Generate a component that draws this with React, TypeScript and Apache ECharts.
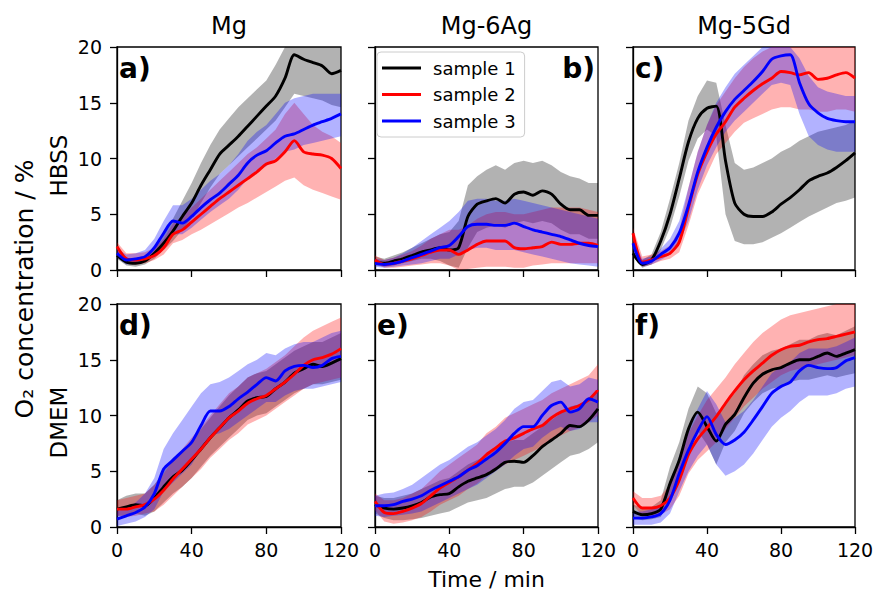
import React, { useEffect, useRef } from "react";
import * as echarts from "echarts";

// ---------- data ----------
const TIME = [0, 5, 10, 15, 20, 25, 30, 35, 40, 45, 50, 55, 60, 65, 70, 75, 80, 85, 90, 95, 100, 105, 110, 115, 120];
const COLUMN_TITLES = ["Mg", "Mg-6Ag", "Mg-5Gd"];
const ROW_LABELS = ["HBSS", "DMEM"];
const PANEL_LABELS = ["a)", "b)", "c)", "d)", "e)", "f)"];
const SAMPLE_NAMES = ["sample 1", "sample 2", "sample 3"];
const Y_LABEL = "O\u2082 concentration / %";
const X_LABEL = "Time / min";

// Panel a) Mg / HBSS
const A_S1 = [1.3, 0.7, 0.6, 0.8, 1.5, 2.4, 3.5, 4.8, 6.0, 7.6, 9.0, 10.4, 11.2, 12.0, 12.9, 13.8, 14.7, 15.6, 17.2, 19.3, 18.9, 18.6, 18.3, 17.6, 17.9];
const A_S1_LO = [1.0, 0.4, 0.3, 0.5, 1.0, 1.8, 2.6, 3.6, 4.6, 6.0, 7.4, 8.6, 9.4, 10.2, 11.0, 11.8, 12.6, 13.4, 14.6, 15.8, 15.6, 15.4, 15.2, 14.8, 14.6];
const A_S1_HI = [1.8, 1.0, 0.9, 1.2, 2.0, 3.2, 4.6, 6.2, 7.8, 9.6, 11.2, 12.6, 13.6, 14.6, 15.4, 16.2, 17.0, 18.4, 20, 20, 20, 20, 20, 20, 20];
const A_S2 = [2.1, 1.0, 0.9, 1.0, 1.3, 2.0, 3.2, 3.6, 4.3, 5.0, 5.7, 6.4, 7.0, 7.6, 8.2, 8.8, 9.5, 9.8, 10.6, 11.6, 10.6, 10.4, 10.3, 10.0, 9.1];
const A_S2_LO = [1.5, 0.6, 0.5, 0.6, 0.9, 1.4, 2.4, 2.7, 3.2, 3.6, 4.1, 4.6, 5.1, 5.6, 6.0, 6.5, 7.0, 7.5, 8.0, 8.3, 7.6, 7.2, 6.9, 6.6, 6.3];
const A_S2_HI = [2.5, 1.5, 1.5, 1.6, 2.0, 2.8, 4.2, 4.8, 5.6, 6.4, 7.2, 8.0, 8.8, 9.6, 10.4, 11.0, 11.8, 12.6, 14.0, 15.0, 14.0, 13.0, 12.4, 12.0, 11.4];
const A_S3 = [1.5, 0.9, 1.0, 1.2, 2.0, 3.3, 4.4, 4.2, 4.8, 5.6, 6.3, 6.9, 7.7, 8.5, 9.6, 10.3, 10.7, 11.4, 12.0, 12.2, 12.6, 13.0, 13.3, 13.6, 14.0];
const A_S3_LO = [1.1, 0.5, 0.6, 0.8, 1.4, 2.4, 3.2, 3.2, 3.8, 4.5, 5.2, 5.8, 6.4, 7.2, 8.2, 8.9, 9.3, 10.0, 10.6, 10.8, 11.2, 11.4, 11.6, 11.8, 12.0];
const A_S3_HI = [1.9, 1.4, 1.5, 1.8, 2.8, 4.4, 5.8, 5.8, 6.4, 7.2, 8.0, 8.6, 9.4, 10.4, 11.6, 12.4, 13.0, 14.0, 15.0, 15.4, 15.6, 15.8, 15.8, 15.8, 15.8];

// Panel b) Mg-6Ag / HBSS
const B_S1 = [0.7, 0.6, 0.8, 1.0, 1.3, 1.6, 1.8, 2.0, 1.8, 2.0, 4.8, 5.9, 6.2, 6.4, 6.0, 6.8, 7.0, 6.7, 7.1, 6.8, 5.9, 5.4, 5.4, 4.9, 4.9];
const B_S1_LO = [0.4, 0.3, 0.4, 0.6, 0.8, 1.0, 1.0, 0.8, 0.4, 0.2, 2.0, 3.4, 3.8, 4.0, 3.8, 4.2, 4.4, 4.2, 4.4, 4.2, 3.6, 3.2, 3.2, 2.8, 2.8];
const B_S1_HI = [1.2, 1.0, 1.3, 1.6, 2.0, 2.4, 2.8, 3.2, 3.4, 4.4, 7.6, 8.4, 9.0, 9.4, 9.0, 9.6, 9.8, 9.6, 9.8, 9.4, 8.8, 8.4, 8.2, 7.8, 7.8];
const B_S2 = [0.9, 0.5, 0.6, 0.8, 1.0, 1.3, 1.6, 1.8, 1.8, 1.4, 1.8, 2.3, 2.6, 2.6, 2.6, 2.0, 1.9, 2.0, 2.1, 2.5, 2.3, 2.3, 2.4, 2.4, 2.2];
const B_S2_LO = [0.6, 0.2, 0.2, 0.3, 0.4, 0.5, 0.6, 0.6, 0.4, 0.0, 0.1, 0.2, 0.3, 0.3, 0.3, 0.2, 0.2, 0.4, 0.5, 0.6, 0.6, 0.6, 0.6, 0.6, 0.6];
const B_S2_HI = [1.3, 0.9, 1.1, 1.4, 1.7, 2.2, 2.8, 3.2, 3.6, 3.6, 4.0, 4.6, 5.0, 5.2, 5.2, 5.0, 5.0, 5.2, 5.4, 5.6, 5.6, 5.6, 5.6, 5.4, 5.2];
const B_S3 = [0.6, 0.5, 0.6, 0.8, 1.1, 1.4, 1.7, 2.0, 2.2, 3.0, 3.9, 4.1, 4.1, 4.0, 4.0, 4.2, 3.9, 3.6, 3.4, 3.2, 3.0, 2.7, 2.4, 2.2, 2.1];
const B_S3_LO = [0.3, 0.2, 0.3, 0.4, 0.5, 0.6, 0.8, 1.0, 1.0, 1.4, 1.8, 2.0, 2.0, 1.8, 1.8, 1.8, 1.6, 1.4, 1.2, 1.0, 0.8, 0.6, 0.5, 0.4, 0.3];
const B_S3_HI = [1.0, 0.9, 1.1, 1.5, 2.0, 2.6, 3.2, 3.8, 4.4, 5.2, 6.2, 6.4, 6.4, 6.2, 6.2, 6.4, 6.2, 6.0, 5.8, 5.6, 5.4, 5.2, 5.0, 4.8, 4.6];

// Panel c) Mg-5Gd / HBSS
const C_S1 = [1.5, 0.5, 0.9, 2.6, 5.0, 8.2, 11.5, 13.6, 14.5, 14.7, 9.8, 6.0, 5.0, 4.8, 4.8, 5.2, 5.9, 6.5, 7.2, 8.0, 8.4, 8.7, 9.2, 9.8, 10.5];
const C_S1_LO = [1.2, 0.2, 0.5, 1.8, 3.8, 6.6, 9.8, 11.8, 12.6, 12.0, 5.0, 2.6, 2.3, 2.3, 2.5, 2.9, 3.3, 3.8, 4.3, 4.8, 5.2, 5.6, 6.0, 6.2, 6.5];
const C_S1_HI = [1.9, 0.9, 1.4, 3.4, 6.4, 9.6, 13.4, 15.6, 17.0, 16.8, 13.0, 9.6, 9.0, 9.2, 9.6, 10.0, 10.6, 11.0, 11.6, 12.0, 12.4, 12.6, 12.8, 13.0, 13.4];
const C_S2 = [3.3, 0.7, 0.9, 1.2, 1.5, 2.5, 5.6, 8.6, 10.6, 12.2, 13.3, 14.6, 15.4, 16.1, 16.7, 17.2, 17.8, 17.7, 17.5, 17.7, 17.1, 17.2, 17.5, 17.7, 17.2];
const C_S2_LO = [2.8, 0.3, 0.5, 0.8, 1.0, 1.6, 4.0, 6.8, 8.6, 10.4, 11.4, 12.4, 13.2, 13.6, 14.0, 14.4, 14.6, 14.6, 14.4, 14.4, 14.2, 14.2, 14.4, 14.4, 14.2];
const C_S2_HI = [3.8, 1.2, 1.4, 1.7, 2.2, 3.6, 7.4, 10.6, 13.0, 14.8, 16.0, 17.2, 18.2, 19.0, 19.6, 20, 20, 20, 20, 20, 20, 20, 20, 20, 20];
const C_S3 = [2.4, 0.6, 0.8, 1.4, 2.0, 3.3, 5.8, 8.8, 11.0, 12.8, 14.2, 15.3, 16.1, 16.9, 17.8, 18.9, 19.2, 19.3, 16.8, 14.9, 14.1, 13.6, 13.4, 13.3, 13.3];
const C_S3_LO = [2.0, 0.3, 0.5, 0.9, 1.4, 2.4, 4.4, 7.2, 9.4, 11.0, 12.4, 13.4, 14.2, 15.0, 15.8, 16.6, 16.8, 16.6, 14.0, 12.0, 11.2, 10.8, 10.6, 10.6, 10.6];
const C_S3_HI = [2.8, 1.0, 1.2, 1.9, 2.8, 4.4, 7.4, 10.6, 13.0, 15.0, 16.4, 17.6, 18.4, 19.2, 20, 20, 20, 20, 19.0, 17.4, 16.4, 16.0, 15.8, 15.6, 15.6];

// Panel d) Mg / DMEM
const D_S1 = [1.6, 1.8, 2.0, 1.9, 2.6, 3.6, 4.5, 5.1, 6.0, 7.0, 8.0, 8.9, 9.8, 10.5, 11.3, 11.6, 11.7, 12.4, 13.0, 13.8, 14.2, 14.6, 14.4, 14.7, 15.1];
const D_S1_LO = [1.0, 1.0, 1.2, 1.0, 1.4, 2.2, 3.0, 3.6, 4.4, 5.4, 6.4, 7.2, 8.0, 8.8, 9.6, 10.0, 10.2, 10.8, 11.4, 12.0, 12.4, 12.8, 12.8, 13.0, 13.2];
const D_S1_HI = [2.4, 2.8, 3.0, 3.0, 3.8, 5.0, 6.2, 6.8, 7.8, 8.8, 9.8, 10.8, 11.8, 12.6, 13.4, 13.8, 14.0, 14.6, 15.2, 15.8, 16.2, 16.6, 16.6, 17.0, 17.4];
const D_S2 = [1.6, 1.6, 1.8, 2.0, 2.5, 3.3, 4.3, 5.2, 6.1, 7.0, 8.0, 8.9, 9.8, 10.4, 11.1, 11.5, 11.8, 12.4, 13.0, 13.7, 14.5, 15.0, 15.2, 15.5, 16.0];
const D_S2_LO = [1.0, 0.9, 1.0, 1.2, 1.4, 2.0, 2.8, 3.6, 4.4, 5.2, 6.2, 7.0, 7.8, 8.4, 9.2, 9.6, 10.0, 10.6, 11.2, 11.8, 12.4, 12.8, 13.0, 13.2, 13.4];
const D_S2_HI = [2.4, 2.6, 2.8, 3.0, 3.8, 4.8, 6.0, 7.0, 8.0, 9.0, 10.0, 11.0, 12.0, 12.6, 13.4, 13.8, 14.2, 14.8, 15.4, 16.2, 17.0, 17.6, 18.0, 18.4, 18.8];
const D_S3 = [0.7, 1.0, 1.3, 1.8, 3.0, 5.2, 6.0, 6.8, 7.6, 9.1, 10.4, 10.4, 10.8, 11.5, 12.1, 12.8, 13.4, 13.1, 14.0, 14.4, 14.5, 14.3, 14.5, 15.1, 15.3];
const D_S3_LO = [0.1, 0.3, 0.5, 0.9, 1.6, 3.2, 4.0, 4.8, 5.6, 7.0, 8.2, 8.4, 8.8, 9.4, 10.0, 10.6, 11.2, 11.2, 11.8, 12.2, 12.4, 12.4, 12.6, 12.8, 13.0];
const D_S3_HI = [1.4, 1.7, 2.2, 3.0, 4.4, 7.0, 8.4, 9.6, 10.8, 12.0, 12.8, 13.0, 13.4, 14.0, 14.6, 15.0, 15.6, 15.4, 16.0, 16.4, 16.6, 16.6, 17.0, 17.4, 17.6];

// Panel e) Mg-6Ag / DMEM
const E_S1 = [2.0, 1.7, 1.6, 1.7, 1.9, 2.2, 2.7, 2.9, 3.0, 3.6, 4.1, 4.4, 4.7, 5.2, 5.8, 5.9, 5.8, 6.4, 7.2, 7.8, 8.4, 9.1, 9.0, 9.6, 10.6];
const E_S1_LO = [1.2, 0.8, 0.6, 0.6, 0.7, 0.8, 1.0, 1.2, 1.4, 1.8, 2.2, 2.4, 2.6, 3.0, 3.4, 3.6, 3.6, 4.0, 4.6, 5.2, 5.8, 6.4, 6.6, 7.0, 7.6];
const E_S1_HI = [2.8, 2.6, 2.6, 2.8, 3.0, 3.4, 3.8, 4.2, 4.4, 5.0, 5.6, 6.0, 6.4, 7.0, 7.6, 7.8, 7.8, 8.4, 9.0, 9.6, 10.2, 10.8, 11.0, 11.6, 12.4];
const E_S2 = [2.3, 1.3, 1.2, 1.4, 1.7, 2.1, 2.8, 3.5, 4.0, 4.5, 5.1, 5.7, 6.5, 7.1, 7.7, 8.0, 8.4, 8.8, 9.1, 9.8, 10.3, 10.6, 10.9, 11.4, 12.3];
const E_S2_LO = [1.5, 0.5, 0.3, 0.4, 0.6, 0.9, 1.4, 2.0, 2.4, 2.8, 3.4, 3.9, 4.6, 5.1, 5.6, 6.0, 6.4, 6.8, 7.2, 7.8, 8.2, 8.6, 8.9, 9.4, 10.0];
const E_S2_HI = [3.0, 2.4, 2.4, 2.6, 3.0, 3.4, 4.2, 5.0, 5.6, 6.2, 6.8, 7.4, 8.4, 9.0, 9.8, 10.2, 10.6, 11.0, 11.4, 12.0, 12.4, 12.8, 13.2, 13.6, 14.6];
const E_S3 = [1.9, 1.9, 2.0, 2.3, 2.5, 2.8, 3.3, 3.7, 4.1, 4.5, 5.1, 5.5, 6.1, 6.7, 7.5, 8.4, 9.0, 9.0, 10.0, 10.9, 11.2, 10.3, 10.6, 11.5, 11.2];
const E_S3_LO = [1.0, 0.9, 1.0, 1.1, 1.2, 1.4, 1.8, 2.2, 2.6, 3.0, 3.4, 3.8, 4.4, 5.0, 5.6, 6.4, 7.0, 7.2, 8.0, 8.6, 9.0, 8.6, 8.8, 9.4, 9.4];
const E_S3_HI = [2.8, 3.0, 3.1, 3.4, 3.8, 4.4, 5.0, 5.6, 6.0, 6.6, 7.2, 7.6, 8.2, 8.8, 9.6, 10.6, 11.2, 11.4, 12.2, 13.0, 13.2, 12.6, 12.8, 13.4, 13.2];

// Panel f) Mg-5Gd / DMEM
const F_S1 = [1.4, 1.1, 1.2, 1.6, 3.9, 6.0, 8.8, 10.3, 9.0, 7.7, 9.2, 10.1, 11.6, 12.9, 13.7, 14.1, 14.3, 14.7, 15.0, 15.0, 15.3, 15.6, 15.3, 15.6, 15.9];
const F_S1_LO = [0.8, 0.6, 0.7, 0.9, 2.6, 4.6, 7.2, 8.6, 7.4, 5.6, 7.6, 8.6, 10.2, 11.2, 12.0, 12.4, 12.6, 13.0, 13.2, 13.2, 13.4, 13.6, 13.4, 13.6, 13.8];
const F_S1_HI = [2.0, 1.8, 1.8, 2.4, 5.4, 7.6, 10.6, 12.6, 12.0, 10.2, 11.0, 12.0, 13.6, 14.6, 15.4, 15.8, 16.0, 16.4, 16.8, 16.8, 17.2, 17.4, 17.2, 17.6, 18.0];
const F_S2 = [2.6, 1.7, 1.7, 1.9, 2.6, 4.2, 6.5, 7.9, 8.9, 9.9, 11.1, 12.2, 13.2, 14.0, 14.7, 15.4, 15.9, 16.2, 16.3, 16.6, 16.8, 16.9, 17.1, 17.3, 17.5];
const F_S2_LO = [2.0, 1.0, 1.0, 1.1, 1.6, 2.8, 4.8, 6.0, 6.8, 7.6, 8.8, 9.8, 10.8, 11.6, 12.4, 13.0, 13.6, 14.0, 14.2, 14.4, 14.6, 14.8, 15.0, 15.2, 15.4];
const F_S2_HI = [3.2, 2.6, 2.6, 2.8, 3.8, 5.8, 8.4, 10.0, 11.4, 12.4, 13.4, 14.6, 15.6, 16.6, 17.4, 18.0, 18.6, 19.0, 19.2, 19.4, 19.6, 19.8, 20, 20, 20];
const F_S3 = [0.8, 0.8, 0.9, 1.2, 2.4, 4.8, 6.9, 8.6, 9.9, 8.3, 7.4, 7.8, 8.5, 9.6, 10.8, 12.0, 12.6, 13.0, 14.0, 14.5, 14.3, 14.2, 14.3, 14.9, 15.2];
const F_S3_LO = [0.2, 0.2, 0.2, 0.4, 1.2, 3.2, 5.0, 6.4, 7.4, 5.6, 4.6, 5.0, 5.6, 6.6, 7.8, 9.0, 9.8, 10.4, 11.2, 11.8, 11.8, 11.8, 12.0, 12.4, 12.6];
const F_S3_HI = [1.4, 1.4, 1.6, 2.0, 3.6, 6.4, 8.8, 10.6, 12.2, 11.0, 9.4, 9.8, 10.4, 11.4, 12.6, 13.8, 14.4, 14.8, 15.6, 16.0, 16.0, 16.0, 16.2, 16.6, 17.0];

const PANELS = [
  [[A_S1, A_S1_LO, A_S1_HI], [A_S2, A_S2_LO, A_S2_HI], [A_S3, A_S3_LO, A_S3_HI]],
  [[B_S1, B_S1_LO, B_S1_HI], [B_S2, B_S2_LO, B_S2_HI], [B_S3, B_S3_LO, B_S3_HI]],
  [[C_S1, C_S1_LO, C_S1_HI], [C_S2, C_S2_LO, C_S2_HI], [C_S3, C_S3_LO, C_S3_HI]],
  [[D_S1, D_S1_LO, D_S1_HI], [D_S2, D_S2_LO, D_S2_HI], [D_S3, D_S3_LO, D_S3_HI]],
  [[E_S1, E_S1_LO, E_S1_HI], [E_S2, E_S2_LO, E_S2_HI], [E_S3, E_S3_LO, E_S3_HI]],
  [[F_S1, F_S1_LO, F_S1_HI], [F_S2, F_S2_LO, F_S2_HI], [F_S3, F_S3_LO, F_S3_HI]],
];

// ---------- styling / layout ----------
const COLORS = ["#000000", "#ff0000", "#0000ff"];
const FONT = "DejaVu Sans";
const COL_LEFT = [117, 375, 633];
const COL_WIDTH = [224, 223, 222];
const ROW_TOP = [47, 304];
const ROW_HEIGHT = 223;

function makeBandRenderer(bandData: number[][], color: string) {
  return (params: any, api: any) => {
    if (params.dataIndex !== 0) return null;
    const upper: number[][] = [];
    const lower: number[][] = [];
    for (let k = 0; k < bandData.length; k++) {
      const [t, lo, hi] = bandData[k];
      upper.push(api.coord([t, hi]));
      lower.push(api.coord([t, lo]));
    }
    return {
      type: "polygon",
      shape: { points: upper.concat(lower.reverse()) },
      style: { fill: color, opacity: 0.3 },
      silent: true,
    };
  };
}

function buildOption() {
  const grid: any[] = [];
  const xAxis: any[] = [];
  const yAxis: any[] = [];
  const series: any[] = [];
  const graphic: any[] = [];

  PANELS.forEach((p, i) => {
    const row = Math.floor(i / 3);
    const col = i % 3;
    grid.push({
      left: COL_LEFT[col],
      top: ROW_TOP[row],
      width: COL_WIDTH[col],
      height: ROW_HEIGHT,
      show: true,
      borderColor: "#000",
      borderWidth: 1.3,
      backgroundColor: "transparent",
    });
    xAxis.push({
      type: "value",
      gridIndex: i,
      min: 0,
      max: 120,
      interval: 40,
      axisLine: { show: true, onZero: false, lineStyle: { color: "#000", width: 1.3 } },
      axisTick: { show: true, inside: false, length: 7, lineStyle: { color: "#000", width: 1.3 } },
      axisLabel: { show: row === 1, fontSize: 19, color: "#000", fontFamily: FONT, margin: 13 },
      splitLine: { show: false },
    });
    yAxis.push({
      type: "value",
      gridIndex: i,
      min: 0,
      max: 20,
      interval: 5,
      axisLine: { show: true, onZero: false, lineStyle: { color: "#000", width: 1.3 } },
      axisTick: { show: true, inside: false, length: 7, lineStyle: { color: "#000", width: 1.3 } },
      axisLabel: { show: col === 0, fontSize: 19, color: "#000", fontFamily: FONT, margin: 15 },
      splitLine: { show: false },
    });

    p.forEach((trip, s) => {
      const [line, lo, hi] = trip;
      const bandData = TIME.map((t, k) => [t, lo[k], hi[k]]);
      series.push({
        type: "custom",
        name: `band-${i}-${s}`,
        xAxisIndex: i,
        yAxisIndex: i,
        silent: true,
        clip: true,
        encode: { x: 0, y: [1, 2] },
        data: bandData,
        renderItem: makeBandRenderer(bandData, COLORS[s]),
      });
      series.push({
        type: "line",
        name: SAMPLE_NAMES[s],
        xAxisIndex: i,
        yAxisIndex: i,
        symbol: "none",
        smooth: 0.25,
        lineStyle: { color: COLORS[s], width: 2.9 },
        itemStyle: { color: COLORS[s] },
        data: TIME.map((t, k) => [t, line[k]]),
      });
    });

    const isRight = i === 1;
    graphic.push({
      type: "text",
      x: isRight ? COL_LEFT[col] + COL_WIDTH[col] - 3 : COL_LEFT[col] + 2,
      y: ROW_TOP[row] + 21,
      z: 10,
      style: {
        text: PANEL_LABELS[i],
        fontSize: 28,
        fontWeight: "bold",
        fontFamily: FONT,
        fill: "#000",
        align: isRight ? "right" : "left",
        verticalAlign: "middle",
      },
    });
  });

  COLUMN_TITLES.forEach((t, c) => {
    graphic.push({
      type: "text",
      x: COL_LEFT[c] + COL_WIDTH[c] / 2,
      y: 26,
      style: { text: t, fontSize: 24, fontFamily: FONT, fill: "#000", align: "center", verticalAlign: "middle" },
    });
  });

  ROW_LABELS.forEach((t, r) => {
    graphic.push({
      type: "text",
      x: 59,
      y: ROW_TOP[r] + ROW_HEIGHT / 2 + 7,
      rotation: Math.PI / 2,
      style: { text: t, fontSize: 23, fontFamily: FONT, fill: "#000", align: "center", verticalAlign: "middle" },
    });
  });

  graphic.push({
    type: "text",
    x: 24,
    y: 289,
    rotation: Math.PI / 2,
    style: { text: Y_LABEL, fontSize: 25, fontFamily: FONT, fill: "#000", align: "center", verticalAlign: "middle" },
  });

  graphic.push({
    type: "text",
    x: COL_LEFT[1] + COL_WIDTH[1] / 2,
    y: 579,
    style: { text: X_LABEL, fontSize: 22, fontFamily: FONT, fill: "#000", align: "center", verticalAlign: "middle" },
  });

  return {
    animation: false,
    backgroundColor: "#ffffff",
    textStyle: { fontFamily: FONT },
    grid,
    xAxis,
    yAxis,
    series,
    graphic,
    legend: {
      data: SAMPLE_NAMES,
      left: 377,
      top: 52,
      orient: "vertical",
      icon: "rect",
      itemWidth: 39,
      itemHeight: 3,
      itemGap: 8.5,
      selectedMode: false,
      padding: [7, 9, 7, 5],
      backgroundColor: "rgba(255,255,255,0.8)",
      borderColor: "#cccccc",
      borderWidth: 1,
      borderRadius: 4,
      textStyle: { fontSize: 18, color: "#000", fontFamily: FONT, padding: [0, 0, 0, 7] },
      z: 10,
    },
  };
}

export default function App() {
  const ref = useRef<HTMLDivElement>(null);
  useEffect(() => {
    if (!ref.current) return;
    const chart = echarts.init(ref.current, undefined, { renderer: "svg" });
    chart.setOption(buildOption() as any);
    return () => chart.dispose();
  }, []);
  return (
    <div
      ref={ref}
      style={{ position: "fixed", left: 0, top: 0, width: 877, height: 590, background: "#fff" }}
    />
  );
}
